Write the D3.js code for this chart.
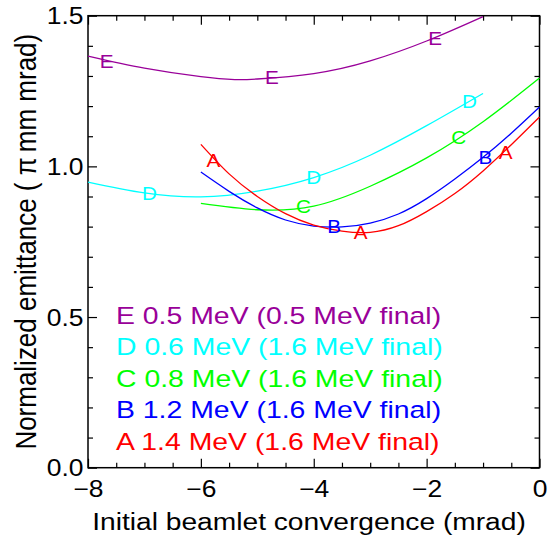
<!DOCTYPE html>
<html>
<head>
<meta charset="utf-8">
<script src="https://cdn.jsdelivr.net/npm/d3@7"></script>
<style>
  body { margin: 0; background: #fff; }
  svg { display: block; font-family: "Liberation Sans", Arial, Helvetica, sans-serif; }
</style>
</head>
<body>
<svg id="chart" width="550" height="539"></svg>
<script>
// values
var convE = [-8, -7, -6, -5.4, -5, -4, -3, -2, -1];
var emitE = [1.366, 1.326, 1.298, 1.288, 1.290, 1.308, 1.350, 1.416, 1.497];
var convD = [-8, -7, -6, -5, -4, -3, -2, -1];
var emitD = [0.948, 0.912, 0.899, 0.918, 0.963, 1.037, 1.135, 1.242];
var convC = [-6, -5, -4, -3, -2, -1, 0];
var emitC = [0.877, 0.856, 0.868, 0.934, 1.028, 1.148, 1.293];
var convB = [-6, -5.5, -5, -4.5, -4, -3.5, -3, -2.5, -2, -1.5, -1, -0.5, 0];
var emitB = [0.981, 0.917, 0.862, 0.822, 0.802, 0.799, 0.812, 0.842, 0.893, 0.958, 1.030, 1.110, 1.197];
var convA = [-6, -5.5, -5, -4.5, -4, -3.5, -3, -2.5, -2, -1.5, -1, -0.5, 0];
var emitA = [1.073, 0.975, 0.900, 0.843, 0.805, 0.785, 0.781, 0.803, 0.850, 0.910, 0.985, 1.072, 1.164];

// where the letter labels sit on each curve
var labE = [[-7.67, 1.347], [-4.74, 1.295], [-1.85, 1.424]];
var labD = [[-6.91, 0.910], [-4.0, 0.963], [-1.24, 1.216]];
var labC = [[-4.18, 0.866], [-1.43, 1.096]];
var labB = [[-3.64, 0.799], [-0.96, 1.031]];
var labA = [[-5.78, 1.020], [-3.17, 0.781], [-0.60, 1.045]];

var seriesNames = ["E", "D", "C", "B", "A"];
var legendTexts = ["E 0.5 MeV (0.5 MeV final)", "D 0.6 MeV (1.6 MeV final)",
  "C 0.8 MeV (1.6 MeV final)", "B 1.2 MeV (1.6 MeV final)", "A 1.4 MeV (1.6 MeV final)"];
var colors = ["#990099", "#00ffff", "#00ff00", "#0000ff", "#ff0000"];

var xTicks = [-8, -6, -4, -2, 0];
var xTickLabels = ["\u22128", "\u22126", "\u22124", "\u22122", "0"];
var yTicks = [0, 0.5, 1.0, 1.5];
var yTickLabels = ["0.0", "0.5", "1.0", "1.5"];

var xTitle = "Initial beamlet convergence (mrad)";
var yTitle = "Normalized emittance ( \u03c0\u2009mm mrad)";

var series = [
  {conv: convE, emit: emitE, labs: labE},
  {conv: convD, emit: emitD, labs: labD},
  {conv: convC, emit: emitC, labs: labC},
  {conv: convB, emit: emitB, labs: labB},
  {conv: convA, emit: emitA, labs: labA}
];

var SX = 1.15; // the type in the picture is a bit wide
var svg = d3.select("#chart");
var pL = 88, pR = 539.5, pT = 15.7, pB = 467.7;

var x = d3.scaleLinear().domain([-8, 0]).range([pL, pR]);
var y = d3.scaleLinear().domain([0, 1.5]).range([pB, pT]);

var minorX = d3.range(-8, 0.01, 0.5).filter(function(v){ return v % 2 != 0; });
var minorY = d3.range(0, 1.501, 0.1).map(function(v){ return Math.round(v*10)/10; })
  .filter(function(v){ return Math.round(v*10) % 5 != 0; });

function addAxis(axis, tx, ty){
  var g = svg.append("g").attr("transform", "translate(" + tx + "," + ty + ")").call(axis);
  g.select(".domain").remove();
  g.selectAll("line").attr("stroke", "#000").attr("stroke-width", 1.2);
  return g;
}

// major ticks, pointing inward
var gx = addAxis(d3.axisBottom(x).tickValues(xTicks).tickSize(-9).tickSizeOuter(0).tickPadding(13)
  .tickFormat(function(d, i){ return xTickLabels[i]; }), 0, pB);
var gy = addAxis(d3.axisLeft(y).tickValues(yTicks).tickSize(-9).tickSizeOuter(0).tickPadding(0)
  .tickFormat(function(d, i){ return yTickLabels[i]; }), pL, 0);
addAxis(d3.axisTop(x).tickValues(xTicks).tickSize(-9).tickSizeOuter(0).tickFormat(""), 0, pT);
addAxis(d3.axisRight(y).tickValues(yTicks).tickSize(-9).tickSizeOuter(0).tickFormat(""), pR, 0);

// minor ticks
addAxis(d3.axisBottom(x).tickValues(minorX).tickSize(-5).tickSizeOuter(0).tickFormat(""), 0, pB);
addAxis(d3.axisTop(x).tickValues(minorX).tickSize(-5).tickSizeOuter(0).tickFormat(""), 0, pT);
addAxis(d3.axisLeft(y).tickValues(minorY).tickSize(-5).tickSizeOuter(0).tickFormat(""), pL, 0);
addAxis(d3.axisRight(y).tickValues(minorY).tickSize(-5).tickSizeOuter(0).tickFormat(""), pR, 0);

gx.selectAll("text").attr("font-size", 23).attr("fill", "#000")
  .attr("font-family", "Liberation Sans, Arial, sans-serif")
  .attr("transform", "scale(" + SX + ",1)");
gy.selectAll("text").attr("font-size", 23).attr("fill", "#000")
  .attr("font-family", "Liberation Sans, Arial, sans-serif")
  .attr("x", -4.5 / SX).attr("dy", "0.36em")
  .attr("transform", "scale(" + SX + ",1)");

// frame
svg.append("rect").attr("x", pL).attr("y", pT)
  .attr("width", pR - pL).attr("height", pB - pT)
  .attr("fill", "none").attr("stroke", "#000").attr("stroke-width", 1.5);

// curves
var line = d3.line()
  .x(function(d){ return x(d[0]); })
  .y(function(d){ return y(d[1]); })
  .curve(d3.curveNatural);

var plot = svg.append("g");
series.forEach(function(s, i){
  var pts = s.conv.map(function(c, j){ return [c, s.emit[j]]; });
  plot.append("path").datum(pts).attr("d", line)
    .attr("fill", "none").attr("stroke", colors[i]).attr("stroke-width", 1.3);
});

function stretchedText(parent, px, py, str, size, color, anchor){
  var g = parent.append("g").attr("transform", "translate(" + px + "," + py + ") scale(" + SX + ",1)");
  return g.append("text").text(str)
    .attr("font-size", size).attr("fill", color).attr("text-anchor", anchor || "start");
}

series.forEach(function(s, i){
  s.labs.forEach(function(p){
    stretchedText(plot, x(p[0]), y(p[1]), seriesNames[i], 18, colors[i], "middle").attr("dy", "0.36em");
  });
});

// legend
legendTexts.forEach(function(t, i){
  stretchedText(svg, 116, 323.5 + i * 31.6, t, 24.7, colors[i], "start");
});

// axis titles
stretchedText(svg, 309, 529.5, xTitle, 24.5, "#000", "middle");
svg.append("g").attr("transform", "translate(36," + ((pT + pB) / 2) + ") scale(" + SX + ",1) rotate(-90)")
  .append("text").text(yTitle)
  .attr("font-size", 26).attr("fill", "#000").attr("text-anchor", "middle");
</script>
</body>
</html>
